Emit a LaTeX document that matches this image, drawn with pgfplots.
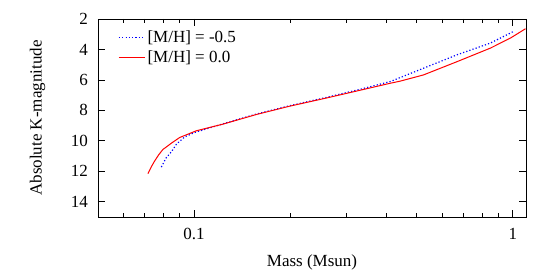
\documentclass[border=0pt]{standalone}
\usepackage{fontspec}
\setmainfont{Liberation Serif}
\usepackage{pgfplots}
\pgfplotsset{compat=1.18}
\begin{document}
\fontsize{17bp}{19bp}\selectfont
\begin{tikzpicture}[font=\fontsize{17bp}{19bp}\selectfont]
\begin{axis}[
  scale only axis, width=428bp, height=198bp,
  xmode=log, xmin=0.05, xmax=1.1,
  ymin=2, ymax=15, y dir=reverse,
  ytick={2,4,6,8,10,12,14},
  xtick={0.1,1}, xticklabels={0.1,1},
  minor xtick={0.06,0.07,0.08,0.09,0.2,0.3,0.4,0.5,0.6,0.7,0.8,0.9},
  /pgf/number format/assume math mode=true,
  tick align=inside,
  major tick length=7bp, minor tick length=4bp,
  tick style={line width=0.8bp, black},
  axis line style={line width=0.9bp},
  tick label style={font=\fontsize{17bp}{19bp}\selectfont},
  label style={font=\fontsize{17bp}{19bp}\selectfont},
  xlabel={Mass (Msun)}, ylabel={Absolute K-magnitude},
  xlabel style={at={(axis description cs:0.5,0)}, anchor=base, yshift=-49.7bp},
  ylabel style={at={(axis description cs:0,0.5)}, anchor=base, yshift=56.3bp},
  xticklabel style={anchor=base, inner sep=0pt, yshift=-23bp},
  yticklabel style={anchor=east, inner sep=0pt, xshift=-10bp},
  legend style={draw=none, fill=none, at={(0.047,0.953)}, anchor=north west, font=\fontsize{17bp}{19bp}\selectfont, row sep=1.5bp, inner sep=0pt},
  legend cell align=left,
  legend image code/.code={\path (0bp,0bp) -- (26bp,0bp); \draw[#1] (0bp,0bp) -- (18bp,0bp);},
]
\addplot[blue, line width=1.2bp, dash pattern=on 1.2bp off 2.1bp] coordinates {
(0.079,11.72) (0.0819,11.10) (0.0849,10.73) (0.0881,10.22) (0.0935,9.74) (0.1005,9.45)
(0.1234,8.88) (0.157,8.24) (0.2,7.69) (0.2576,7.17) (0.33,6.63) (0.4124,6.11)
(0.525,5.23) (0.6686,4.35) (0.851,3.58) (1.0,2.84)
};
\addlegendentry{[M/H] = -0.5}
\addplot[red, line width=1bp] coordinates {
(0.0717,12.15) (0.0735,11.70) (0.0752,11.34) (0.0775,10.92) (0.0799,10.57) (0.085,10.15)
(0.0902,9.78) (0.1017,9.34) (0.1234,8.90) (0.157,8.27) (0.2,7.72) (0.2576,7.21)
(0.33,6.69) (0.4124,6.22) (0.4434,6.08) (0.525,5.67) (0.6686,4.80) (0.851,3.91)
(0.9835,3.25) (1.096,2.64)
};
\addlegendentry{[M/H] = 0.0}
\end{axis}
\useasboundingbox ([shift={(-98bp,-55bp)}]current axis.south west) rectangle ([shift={(19bp,19bp)}]current axis.north east);
\end{tikzpicture}
\end{document}
